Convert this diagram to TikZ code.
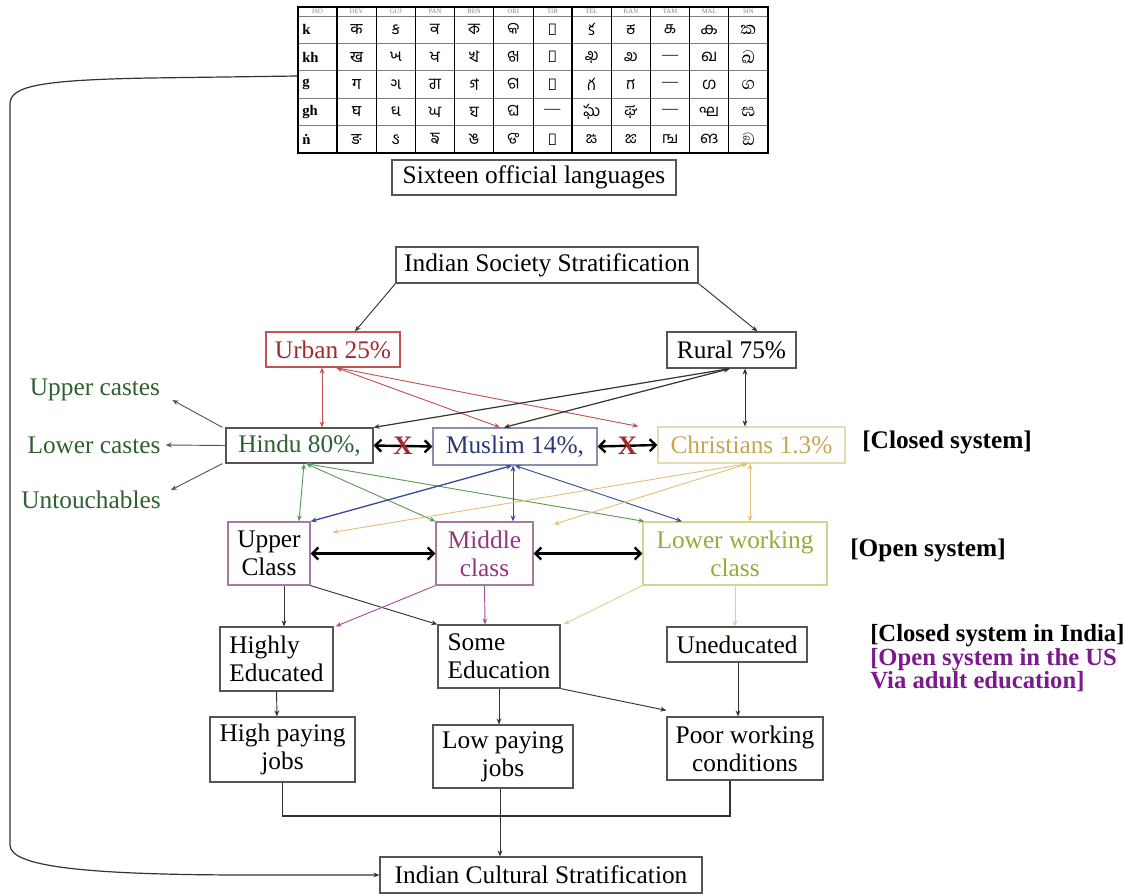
\documentclass[tikz,border=0pt]{standalone}
\usepackage{fontspec}
\setmainfont{Liberation Serif}
\newfontfamily\devfont[Script=Devanagari]{Noto Sans}
\newfontfamily\gujfont[Script=Gujarati]{Noto Sans Gujarati UI}
\newfontfamily\panfont[Script=Gurmukhi]{Hind Jalandhar}
\newfontfamily\benfont[Script=Bengali]{Hind Siliguri}
\newfontfamily\orifont[Script=Oriya]{Noto Sans Oriya UI}
\newfontfamily\tibfont{Noto Sans}
\newfontfamily\telfont[Script=Telugu]{Hind Guntur}
\newfontfamily\kanfont[Script=Kannada]{Hind Mysuru}
\newfontfamily\tamfont[Script=Tamil]{Hind Madurai}
\newfontfamily\malfont[Script=Malayalam]{Hind Kochi}
\newfontfamily\sinfont[Script=Sinhala,Scale=1.4]{Abhaya Libre}
\usetikzlibrary{arrows.meta,calc,fit}
\definecolor{boxline}{HTML}{555555}
\definecolor{darkline}{HTML}{333333}
\definecolor{urbanc}{HTML}{A3282B}
\definecolor{urbanline}{HTML}{C65353}
\definecolor{hinduc}{HTML}{2E6030}
\definecolor{hinduline}{HTML}{5A9A5A}
\definecolor{muslimc}{HTML}{2C3778}
\definecolor{muslimbox}{HTML}{8A90B0}
\definecolor{muslimline}{HTML}{3A4AA0}
\definecolor{christc}{HTML}{C8A550}
\definecolor{christbox}{HTML}{E5DAB5}
\definecolor{christline}{HTML}{E2C27A}
\definecolor{classline}{HTML}{A57AA5}
\definecolor{middlec}{HTML}{94367F}
\definecolor{middleline}{HTML}{A0509A}
\definecolor{lowerc}{HTML}{9BA83A}
\definecolor{lowerline}{HTML}{CFD890}
\definecolor{usc}{HTML}{7A1A8C}
\newdimen\pxu \pxu=0.75pt
\newcommand\bodyfont{\fontsize{19}{21}\selectfont}
\newcommand\nochar{{\rmfamily —}}
\newcommand\ngl{{\accent"02D9 n}}

\begin{document}
\begin{tikzpicture}[x=0.75pt,y=-0.75pt,
    box/.style={draw=boxline,line width=0.9pt,inner sep=0pt,align=center,font=\bodyfont},
    arrow/.style={-{Stealth[length=4.5pt,width=3.6pt]},line width=0.7pt},
    dblarrow/.style={{Stealth[length=4.5pt,width=3.6pt]}-{Stealth[length=4.5pt,width=3.6pt]},line width=0.7pt},
    heavy/.style={{Straight Barb[length=4.5pt,width=9pt]}-{Straight Barb[length=4.5pt,width=9pt]},line width=1.8pt},
    nomark/.style={font=\bfseries\fontsize{20}{20}\selectfont,text=urbanc,inner sep=0pt},
    caste/.style={font=\bodyfont,text=hinduc,inner sep=0pt},
    sidenote/.style={font=\bfseries\bodyfont,anchor=west,align=left,inner sep=0pt},
    colhead/.style={font=\fontsize{5}{5}\selectfont,text=gray,inner sep=0pt},
    rowlab/.style={font=\bfseries\fontsize{11}{11}\selectfont,anchor=west,inner sep=0pt},
    cell/.style={font=\fontsize{12}{12}\selectfont,inner sep=0pt}
  ]
    \useasboundingbox (0,0) rectangle (1124,895);

    % script table
    \node[fit={(298,7) (768,153)},inner sep=0pt] (scripts) {};
    \foreach \r in {16,43.4,70.8,98.2,125.6}
      \draw[gray,line width=0.6pt] (298,\r) -- (768,\r);
    \foreach \k in {1,...,10}
      \draw[line width=0.6pt] ({337+39.18*\k},7) -- ({337+39.18*\k},153);
    \draw[line width=1.2pt] (337,7) -- (337,153) (572.1,7) -- (572.1,153);
    \draw[line width=1.2pt] (scripts.south west) rectangle (scripts.north east);
    \node[colhead] (hd0) at (317.5,11.5) {ISO};
    \foreach \lab [count=\j] in {k,kh,g,gh,\ngl}
      \node[rowlab] (r\j) at (302,{16+27.4*(\j-0.5)}) {\lab};
    \foreach \hd/\fnt/\gA/\gB/\gC/\gD/\gE [count=\i] in {
        DEV/\devfont/क/ख/ग/घ/ङ,
        GUJ/\gujfont/ક/ખ/ગ/ઘ/ઙ,
        PAN/\panfont/ਕ/ਖ/ਗ/ਘ/ਙ,
        BEN/\benfont/ক/খ/গ/ঘ/ঙ,
        ORI/\orifont/କ/ଖ/ଗ/ଘ/ଙ,
        TIB/\tibfont/ཀ/ཁ/ག/\nochar/ང,
        TEL/\telfont/క/ఖ/గ/ఘ/ఙ,
        KAN/\kanfont/ಕ/ಖ/ಗ/ಘ/ಙ,
        TAM/\tamfont/க/\nochar/\nochar/\nochar/ங,
        MAL/\malfont/ക/ഖ/ഗ/ഘ/ങ,
        SIN/\sinfont/ක/ඛ/ග/ඝ/ඞ}
    {
      \node[colhead] (hd\i) at ({337+39.18*(\i-0.5)},11.5) {\hd};
      \foreach \g [count=\j] in {\gA,\gB,\gC,\gD,\gE}
        \node[cell] (c\i-\j) at ({337+39.18*(\i-0.5)},{16+27.4*(\j-0.5)}) {\fnt\g};
    }

    % boxes
    \node[box,minimum width=284\pxu,minimum height=35\pxu] (languages) at (534,177.5) {Sixteen official languages};
    \node[box,minimum width=302\pxu,minimum height=36\pxu] (society) at (547,265) {Indian Society Stratification};
    \node[box,draw=urbanline,text=urbanc,minimum width=134\pxu,minimum height=35\pxu] (urban) at (333,349.5) {Urban 25\%};
    \node[box,minimum width=129\pxu,minimum height=36\pxu] (rural) at (731.5,350) {Rural 75\%};
    \node[box,text=hinduc,minimum width=147\pxu,minimum height=35\pxu] (hindu) at (299.5,445.5) {Hindu 80\%,};
    \node[box,draw=muslimbox,text=muslimc,minimum width=164\pxu,minimum height=37\pxu] (muslim) at (515,446.5) {Muslim 14\%,};
    \node[box,draw=christbox,text=christc,minimum width=187\pxu,minimum height=36\pxu] (christians) at (751.5,445) {Christians 1.3\%};
    \node[box,draw=classline,minimum width=82\pxu,minimum height=63\pxu] (upper) at (269,553.5) {Upper\\Class};
    \node[box,draw=classline,text=middlec,minimum width=97\pxu,minimum height=63\pxu] (middle) at (484.5,553.5) {Middle\\class};
    \node[box,draw=lowerline,text=lowerc,minimum width=184\pxu,minimum height=63\pxu] (lower) at (735,553.5) {Lower working\\class};
    \node[box,align=left,minimum width=113\pxu,minimum height=64\pxu] (highly) at (276.5,659) {Highly\\Educated};
    \node[box,align=left,minimum width=122\pxu,minimum height=63\pxu] (some) at (499,656.5) {Some\\Education};
    \node[box,minimum width=140\pxu,minimum height=35\pxu] (uneducated) at (737,644.5) {Uneducated};
    \node[box,minimum width=145\pxu,minimum height=65\pxu] (highpay) at (282.5,749.5) {High paying\\jobs};
    \node[box,minimum width=140\pxu,minimum height=63\pxu] (lowpay) at (503,756.5) {Low paying\\jobs};
    \node[box,minimum width=156\pxu,minimum height=63\pxu] (poor) at (745,748.5) {Poor working\\conditions};
    \node[box,minimum width=322\pxu,minimum height=36\pxu] (cultural) at (541,875) {Indian Cultural Stratification};

    % side labels
    \node[caste] (uppercaste) at (95,390) {Upper castes};
    \node[caste] (lowercaste) at (94,445) {Lower castes};
    \node[caste] (untouch) at (91,500) {Untouchables};
    \node[sidenote] (closed) at (862,442) {[Closed system]};
    \node[sidenote] (open) at (850,550) {[Open system]};
    \node[sidenote,font=\bfseries\fontsize{18.5}{17.6}\selectfont] (india) at (870,658.5)
      {[Closed system in India]\\\textcolor{usc}{[Open system in the US}\\\textcolor{usc}{Via adult education]}};

    % top connectors
    \draw[arrow,darkline] (society.south west) -- ($(urban.north)+(22,0)$);
    \draw[arrow,darkline] (society.south east) -- ($(rural.north)+(26,0)$);
    \draw[dblarrow,urbanline] ($(urban.south)+(-11,0)$) -- ($(hindu.north)+(22.5,0)$);
    \draw[dblarrow,urbanline] ($(urban.south)+(3,0)$) -- ($(muslim.north)+(-15,0)$);
    \draw[dblarrow,urbanline] ($(urban.south)+(3,0)$) -- ($(christians.north west)+(-19,0)$);
    \draw[dblarrow,darkline] ($(rural.south)+(13.5,0)$) -- ($(christians.north)+(-6.5,0)$);
    \draw[dblarrow,darkline,line width=0.9pt] ($(rural.south)+(-1.5,0)$) -- (hindu.north east);
    \draw[dblarrow,darkline,line width=0.9pt] ($(rural.south)+(-1.5,0)$) -- ($(muslim.north)+(-11,0)$);

    % castes
    \draw[arrow,boxline] ($(hindu.north west)+(-3,0)$) -- ($(uppercaste.east)+(12,10)$);
    \draw[arrow,boxline] (hindu.west) -- ($(lowercaste.east)+(5,0)$);
    \draw[arrow,boxline] ($(hindu.south west)+(-3,0)$) -- ($(untouch.east)+(10,-10)$);

    % religion to class
    \draw[dblarrow,hinduline] ($(hindu.south)+(4.5,0)$) -- ($(upper.north)+(30,0)$);
    \draw[dblarrow,hinduline] ($(hindu.south)+(6.5,0)$) -- (middle.north west);
    \draw[dblarrow,hinduline] ($(hindu.south)+(6.5,0)$) -- ($(lower.north west)+(2,0)$);
    \draw[dblarrow,muslimline,line width=1pt] ($(muslim.south)+(-3,0)$) -- (upper.north east);
    \draw[dblarrow,muslimline] ($(muslim.south)+(-2,0)$) -- ($(middle.north)+(28.5,0)$);
    \draw[dblarrow,muslimline] (muslim.south) -- ($(lower.north)+(-53,0)$);
    \draw[dblarrow,christline] ($(christians.south)+(-1.5,0)$) -- ($(lower.north)+(15,0)$);
    \draw[dblarrow,christline] ($(christians.south)+(-3.5,0)$) -- ($(upper.north east)+(22,11)$);
    \draw[dblarrow,christline] ($(christians.south)+(-3.5,0)$) -- ($(middle.north east)+(20,3)$);

    % heavy links
    \draw[heavy] (hindu.east) -- node[nomark] (x1) {X} (muslim.west);
    \draw[heavy] (muslim.east) -- node[nomark] (x2) {X} (christians.west);
    \draw[heavy] (upper.east) -- (middle.west);
    \draw[heavy] (middle.east) -- (lower.west);

    % class to education and jobs
    \draw[arrow,darkline] ($(upper.south)+(15,0)$) -- ($(highly.north)+(7.5,0)$);
    \draw[arrow,darkline] (upper.south east) -- (some.north west);
    \draw[arrow,middleline] (middle.south west) -- ($(highly.north east)+(2,0)$);
    \draw[arrow,middleline] (middle.south) -- ($(some.north)+(-14,0)$);
    \draw[arrow,lowerline] (lower.south west) -- ($(some.north east)+(3,0)$);
    \draw[arrow,lowerline] (lower.south) -- ($(uneducated.north)+(-2,0)$);
    \draw[arrow,darkline] (highly.south) -- ($(highpay.north)+(-5.5,0)$);
    \draw[arrow,darkline] (some.south) -- ($(lowpay.north)+(-4,0)$);
    \draw[arrow,darkline] (some.south east) -- ($(poor.north west)+(0,-6)$);
    \draw[arrow,darkline] ($(uneducated.south)+(1,0)$) -- ($(poor.north)+(-7,0)$);
    \coordinate (join) at (500,816);
    \draw[darkline,line width=0.8pt] (highpay.south) |- (join) -| ($(poor.south)+(-15,0)$);
    \draw[arrow,darkline] ($(lowpay.south)+(-3,0)$) -- ($(cultural.north)+(-41,0)$);

    % languages loop
    \draw[arrow,darkline,line width=0.9pt] ($(scripts.west)+(0,-4)$) -- (150,78)
      .. controls (40,80) and (10,86) .. (10,104) -- (10,845)
      .. controls (10,866) and (80,875) .. (250,875) -- (cultural.west);
  \end{tikzpicture}
\end{document}
